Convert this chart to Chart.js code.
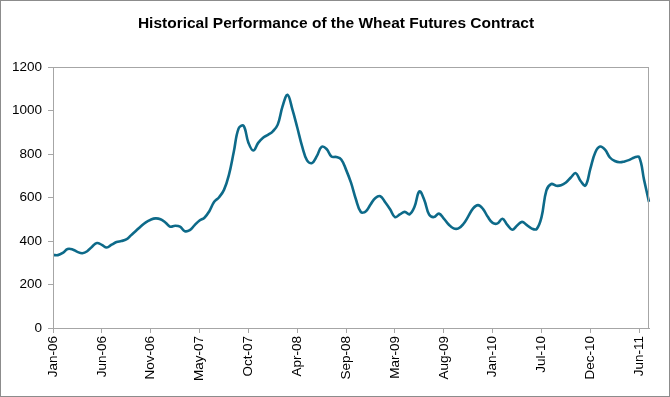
<!DOCTYPE html>
<html>
<head>
<meta charset="utf-8">
<script src="https://cdn.jsdelivr.net/npm/chart.js@4.4.1/dist/chart.umd.min.js"></script>
<style>
  html, body { margin: 0; padding: 0; background: #fff; }
  #wrap { width: 670px; height: 397px; position: relative; }
</style>
</head>
<body>
<div id="wrap"><canvas id="c" width="670" height="397"></canvas></div>
<script>
// Tick labels shown every 10 points along the category axis
const tickLabels = ["Jan-06","Jun-06","Nov-06","May-07","Oct-07","Apr-08","Sep-08","Mar-09","Aug-09","Jan-10","Jul-10","Dec-10","Jun-11"];
const pointsPerTick = 10;

// Wheat futures price (cents/bushel)
const wheatPrices = [
  336, 335, 345, 363, 361, 350, 344, 353, 374, 391,
  382, 370, 383, 395, 400, 407, 427, 447, 468, 486,
  498, 504, 500, 485, 466, 470, 466, 445, 450, 473,
  494, 507, 537, 580, 601, 635, 703, 809, 918, 930,
  852, 816, 851, 875, 888, 904, 935, 1020, 1072, 1005,
  922, 835, 771, 758, 790, 833, 823, 788, 786, 775,
  727, 668, 592, 534, 536, 568, 598, 606, 578, 546,
  510, 522, 534, 523, 557, 628, 589, 521, 510, 526,
  503, 476, 458, 458, 478, 513, 550, 565, 548, 511,
  483, 481, 502, 474, 452, 471, 488, 473, 457, 455,
  510, 633, 662, 654, 656, 669, 692, 712, 676, 655,
  733, 807, 834, 820, 784, 768, 762, 766, 773, 784,
  785, 680, 580
];
const categories = wheatPrices.map((_, i) => i);

const chartTitle = "Historical Performance of the Wheat Futures Contract";
const FONT = "'Liberation Sans', Arial, sans-serif";

const framePlugin = {
  id: 'frame',
  afterDraw(chart) {
    const ctx = chart.ctx;
    const a = chart.chartArea;
    ctx.save();
    // plot frame
    ctx.strokeStyle = '#a6a6a6';
    ctx.lineWidth = 1;
    ctx.strokeRect(Math.round(a.left) + 0.5, Math.round(a.top) + 0.5,
                   Math.round(a.right - a.left) - 1, Math.round(a.bottom - a.top));
    // outer border
    ctx.strokeStyle = '#8c8c8c';
    ctx.strokeRect(0.5, 0.5, chart.width - 1, chart.height - 1);
    // title
    ctx.fillStyle = '#000';
    ctx.font = "bold 15.5px " + FONT;
    ctx.textAlign = 'center';
    ctx.textBaseline = 'alphabetic';
    ctx.fillText(chartTitle, 336, 28);
    ctx.restore();
  }
};

new Chart(document.getElementById('c'), {
  type: 'line',
  data: {
    labels: categories,
    datasets: [{
      data: wheatPrices,
      borderColor: '#0d6a89',
      borderWidth: 2.6,
      pointRadius: 0,
      tension: 0.4,
      fill: false
    }]
  },
  options: {
    responsive: false,
    animation: false,
    devicePixelRatio: 1,
    layout: { padding: { left: 0, right: 21, top: 67, bottom: 0 } },
    plugins: { legend: { display: false }, title: { display: false }, tooltip: { enabled: false } },
    scales: {
      x: {
        type: 'category',
        offset: false,
        border: { display: true, color: '#a6a6a6', width: 1 },
        grid: {
          display: true,
          drawOnChartArea: false,
          drawTicks: true,
          tickLength: 5,
          color: '#a6a6a6'
        },
        ticks: {
          autoSkip: false,
          maxRotation: 90,
          minRotation: 90,
          padding: 3,
          color: '#000',
          font: { family: FONT, size: 13.5 },
          callback: function(value, index) {
            return index % pointsPerTick === 0 ? tickLabels[index / pointsPerTick] : null;
          }
        },
        afterFit(scale) { scale.height = 69; }
      },
      y: {
        min: 0,
        max: 1200,
        border: { display: true, color: '#a6a6a6', width: 1 },
        grid: {
          display: true,
          drawOnChartArea: false,
          drawTicks: true,
          tickLength: 5,
          color: '#a6a6a6'
        },
        ticks: {
          stepSize: 200,
          padding: 6,
          color: '#000',
          font: { family: FONT, size: 13.5 },
          callback: function(value) { return String(value); }
        },
        afterFit(scale) { scale.width = 53; }
      }
    }
  },
  plugins: [framePlugin]
});
</script>
</body>
</html>
